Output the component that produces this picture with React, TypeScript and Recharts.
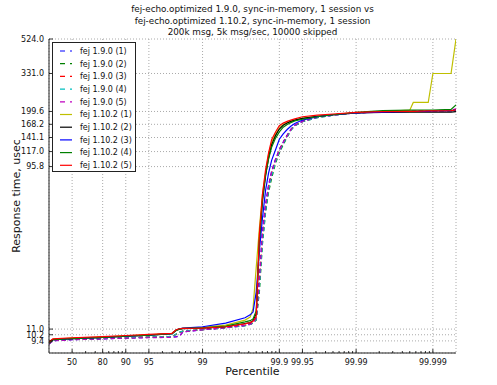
import React from 'react';
import { LineChart, Line, XAxis, YAxis, CartesianGrid, Legend } from 'recharts';

// percentile of each sample point (x axis is 1 / (1 - p), log scaled)
const PERCENTILES = [
  0, 10.9, 50, 80, 90, 95, 97.5, 97.8, 98, 98.2,
  99, 99.5, 99.72, 99.76, 99.78, 99.8, 99.818, 99.834, 99.849, 99.862,
  99.874, 99.888, 99.9, 99.911, 99.921, 99.929, 99.937, 99.95, 99.968, 99.98,
  99.99, 99.9955, 99.998, 99.9982, 99.99885, 99.999, 99.99942, 99.9995,
];

// response times, usec
const OLD_1 = [
  9.0, 9.4, 9.55, 9.65, 9.75, 9.85, 9.9, 9.95, 10.05, 10.6,
  10.9, 11.2, 11.55, 11.75, 11.95,
  12.8, 22, 40, 58, 75, 90, 106, 120, 133, 146, 157, 166, 175,
  185, 190, 196, 199, 200, 200, 200.5, 201, 202, 205,
];
const OLD_2 = [
  9.05, 9.45, 9.6, 9.7, 9.8, 9.9, 9.95, 10.3, 10.55, 10.7,
  10.95, 11.2, 11.5, 11.7, 11.9,
  12.4, 18, 34, 52, 68, 82, 100, 115, 128, 142, 155, 165, 174,
  184, 190, 196, 199, 200, 200, 200.5, 201, 201, 203,
];
const OLD_3 = [
  9.05, 9.45, 9.6, 9.7, 9.8, 9.9, 9.95, 10.25, 10.5, 10.7,
  10.9, 11.2, 11.55, 11.75, 11.95,
  12.6, 20, 38, 56, 73, 88, 104, 119, 132, 145, 156, 166, 175,
  185, 191, 196, 199, 200, 200, 201, 201, 202, 204,
];
const OLD_4 = [
  9.05, 9.45, 9.6, 9.7, 9.8, 9.9, 9.95, 10.3, 10.55, 10.7,
  10.9, 11.2, 11.5, 11.7, 11.9,
  12.5, 19, 35, 53, 70, 85, 102, 117, 130, 143, 155, 165, 174,
  184, 190, 196, 199, 200, 200, 200, 201, 201, 203,
];
const OLD_5 = [
  9.0, 9.4, 9.55, 9.65, 9.75, 9.8, 9.85, 9.9, 10.0, 10.6,
  10.9, 11.2, 11.55, 11.75, 11.95,
  12.7, 21, 39, 57, 74, 89, 105, 119, 132, 145, 156, 166, 175,
  185, 190, 196, 199, 200, 200, 201, 202, 203, 207,
];
const NEW_1 = [
  9.2, 9.6, 9.75, 9.9, 10.05, 10.2, 10.4, 10.9, 11.05, 11.1,
  11.25, 11.6, 12.4, 12.9, 14.5,
  25, 42, 66, 88, 113, 132, 148, 160, 168, 172, 175, 178, 182,
  187, 191, 196, 199, 203, 225, 225, 331, 331, 524,
];
const NEW_2 = [
  9.15, 9.55, 9.7, 9.85, 10.0, 10.15, 10.35, 10.85, 11.0, 11.05,
  11.15, 11.35, 11.85, 12.0, 12.3,
  13.5, 35, 60, 85, 108, 128, 145, 158, 166, 171, 175, 178, 182,
  187, 191, 196, 197, 198, 198, 198, 198, 198, 199,
];
const NEW_3 = [
  9.2, 9.55, 9.7, 9.85, 10.0, 10.15, 10.35, 10.85, 11.05, 11.15,
  11.35, 11.9, 12.8, 13.3, 13.8,
  18, 31, 48, 70, 88, 104, 120, 138, 148, 157, 164, 170, 178,
  186, 191, 196, 198, 200, 200, 200, 201, 202, 204,
];
const NEW_4 = [
  9.15, 9.55, 9.7, 9.85, 10.0, 10.15, 10.35, 10.8, 11.0, 11.1,
  11.2, 11.45, 12.1, 12.3, 12.6,
  14, 36, 62, 86, 106, 124, 140, 152, 162, 168, 172, 176, 180,
  186, 191, 197, 202, 203, 203, 203, 203, 205, 218,
];
const NEW_5 = [
  9.25, 9.65, 9.8, 9.95, 10.1, 10.25, 10.4, 10.9, 11.05, 11.1,
  11.15, 11.35, 11.8, 12.0, 12.2,
  13, 39, 66, 92, 115, 137, 152, 165, 171, 175, 178, 181, 186,
  190, 193, 197, 199, 200, 200, 201, 201, 202, 204,
];

const X_LABELS = [50, 80, 90, 95, 99, 99.9, 99.95, 99.99, 99.999];
const Y_TICKS = [9.4, 10.2, 11.0, 95.8, 117.0, 141.1, 168.2, 199.6, 331.0, 524.0];
const TITLE = [
  'fej-echo.optimized 1.9.0, sync-in-memory, 1 session vs',
  'fej-echo.optimized 1.10.2, sync-in-memory, 1 session',
  '200k msg, 5k msg/sec, 10000 skipped',
];

const SERIES = [
  { name: 'fej 1.9.0 (1)', values: OLD_1, color: '#0000ff', dashed: true },
  { name: 'fej 1.9.0 (2)', values: OLD_2, color: '#008000', dashed: true },
  { name: 'fej 1.9.0 (3)', values: OLD_3, color: '#ff0000', dashed: true },
  { name: 'fej 1.9.0 (4)', values: OLD_4, color: '#00bfbf', dashed: true },
  { name: 'fej 1.9.0 (5)', values: OLD_5, color: '#bf00bf', dashed: true },
  { name: 'fej 1.10.2 (1)', values: NEW_1, color: '#bfbf00', dashed: false },
  { name: 'fej 1.10.2 (2)', values: NEW_2, color: '#000000', dashed: false },
  { name: 'fej 1.10.2 (3)', values: NEW_3, color: '#0000ff', dashed: false },
  { name: 'fej 1.10.2 (4)', values: NEW_4, color: '#008000', dashed: false },
  { name: 'fej 1.10.2 (5)', values: NEW_5, color: '#ff0000', dashed: false },
];

const toInv = (p: number) => 100 / (100 - p);

const data = PERCENTILES.map((p, i) => {
  const row: Record<string, number> = { inv: toInv(p) };
  SERIES.forEach((s, k) => { row[`s${k}`] = s.values[i]; });
  return row;
});

const xMajor = X_LABELS.map(toInv);
const xMinor: number[] = [];
for (let a = 0; a <= 4; a++) {
  for (let k = 1; k <= 9; k++) {
    const v = k * Math.pow(10, a);
    if (v > 1 && !xMajor.some(m => Math.abs(m - v) / v < 1e-6)) xMinor.push(v);
  }
}
const xTicks = [...xMajor, ...xMinor].sort((a, b) => a - b);

const FONT = '"DejaVu Sans", sans-serif';
const majorIndex = (v: number) => xMajor.findIndex(m => Math.abs(m - v) / m < 1e-6);

const BottomTick = ({ x, y, payload }: any) => {
  const idx = majorIndex(payload.value);
  return (
    <g>
      <line x1={x} x2={x} y1={y} y2={y - (idx >= 0 ? 4 : 2)} stroke="#000" strokeWidth={0.8} />
      {idx >= 0 && (
        <text x={x} y={y + 11.5} textAnchor="middle" fontSize={8} fill="#111" fontFamily={FONT}>
          {X_LABELS[idx]}
        </text>
      )}
    </g>
  );
};

const TopTick = ({ x, y }: any) => (
  <line x1={x} x2={x} y1={y} y2={y + 4} stroke="#000" strokeWidth={0.8} />
);

const LeftTick = ({ x, y, payload }: any) => (
  <g>
    <line x1={x} x2={x + 4} y1={y} y2={y} stroke="#000" strokeWidth={0.8} />
    <text x={x - 5} y={y} dy="0.35em" textAnchor="end" fontSize={8} fill="#111" fontFamily={FONT}>
      {Number(payload.value).toFixed(1)}
    </text>
  </g>
);

const RightTick = ({ x, y }: any) => (
  <line x1={x} x2={x - 4} y1={y} y2={y} stroke="#000" strokeWidth={0.8} />
);

const LegendBox = ({ payload }: any) => {
  const items = [...(payload || [])].sort(
    (a: any, b: any) => SERIES.findIndex(s => s.name === a.value) - SERIES.findIndex(s => s.name === b.value)
  );
  return (
    <div style={{ width: 84, height: 130, border: '1px solid #222', background: '#fff', boxSizing: 'border-box' }}>
      <svg width={82} height={128} style={{ display: 'block' }}>
        {items.map((e: any, i: number) => {
          const s = SERIES.find(t => t.name === e.value);
          const cy = 8 + i * 12.7;
          return (
            <g key={e.value}>
              <line x1={7} x2={19} y1={cy} y2={cy} stroke={e.color} strokeWidth={1.2}
                strokeDasharray={s && s.dashed ? '5 5' : undefined} />
              <text x={27} y={cy} dy="0.35em" fontSize={8} fill="#111" fontFamily={FONT}>{e.value}</text>
            </g>
          );
        })}
      </svg>
    </div>
  );
};

const YLabel = ({ viewBox }: any) => {
  const cx = 16;
  const cy = viewBox.y + viewBox.height / 2;
  return (
    <text x={cx} y={cy} dy="0.35em" textAnchor="middle" fontSize={11} fill="#111" fontFamily={FONT}
      transform={`rotate(-90 ${cx} ${cy})`}>
      Response time, usec
    </text>
  );
};

export default function App() {
  return (
    <div style={{ position: 'relative', width: 497, height: 385, fontFamily: FONT, background: '#fff' }}>
      <style>{'body{margin:0}'}</style>
      <div style={{ position: 'absolute', left: 0, top: 4.4, width: 505, textAlign: 'center', fontSize: 8.8, lineHeight: '11.2px', color: '#111' }}>
        {TITLE.map(t => <div key={t}>{t}</div>)}
      </div>
      <LineChart width={497} height={385} data={data} margin={{ top: 39, right: 41, bottom: 0, left: 0 }}>
        <CartesianGrid xAxisId="t" yAxisId="l" stroke="#aaa" strokeDasharray="1 2" />
        <XAxis xAxisId="b" dataKey="inv" type="number" scale="log" domain={[1, 200000]} allowDataOverflow
          ticks={xTicks} interval={0} height={32} tickSize={0} tickMargin={0} tickLine={false}
          axisLine={{ stroke: '#222' }} tick={<BottomTick />}
          label={{ value: 'Percentile', position: 'insideBottom', offset: 10, fontSize: 11, fill: '#111', fontFamily: FONT }} />
        <XAxis xAxisId="t" orientation="top" dataKey="inv" type="number" scale="log" domain={[1, 200000]} allowDataOverflow
          ticks={xMajor} interval={0} height={0} tickSize={0} tickMargin={0} tickLine={false}
          axisLine={{ stroke: '#222' }} tick={<TopTick />} />
        <YAxis yAxisId="l" type="number" scale="log" domain={[8, 524]} allowDataOverflow
          ticks={Y_TICKS} interval={0} width={49} tickSize={0} tickMargin={0} tickLine={false}
          axisLine={{ stroke: '#222' }} tick={<LeftTick />} label={{ content: <YLabel /> }} />
        <YAxis yAxisId="r" orientation="right" type="number" scale="log" domain={[8, 524]} allowDataOverflow
          ticks={Y_TICKS} interval={0} width={0} tickSize={0} tickMargin={0} tickLine={false}
          axisLine={{ stroke: '#222' }} tick={<RightTick />} />
        <Legend layout="vertical" align="center" verticalAlign="middle" content={<LegendBox />}
          wrapperStyle={{ left: 51.7, top: 41.7, width: 84 }} />
        {SERIES.map((s, k) => (
          <Line key={s.name} xAxisId="b" yAxisId="l" type="linear" dataKey={`s${k}`} name={s.name}
            stroke={s.color} strokeWidth={1.2} strokeDasharray={s.dashed ? '4 3' : undefined}
            dot={false} activeDot={false} isAnimationActive={false} />
        ))}
      </LineChart>
    </div>
  );
}
